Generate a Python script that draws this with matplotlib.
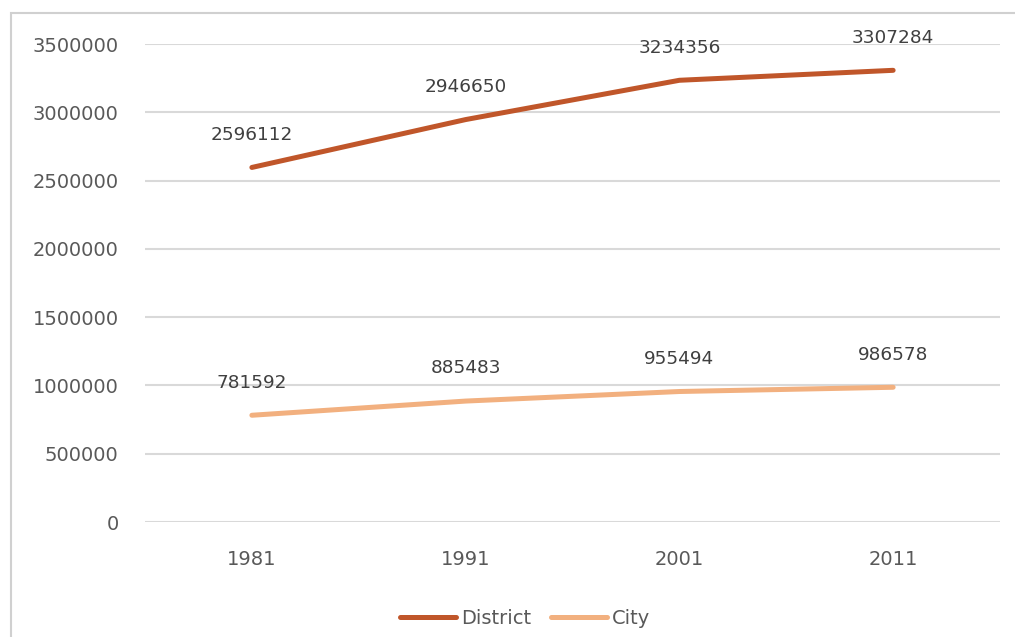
import matplotlib.pyplot as plt
from matplotlib.patches import Rectangle

years = ["1981", "1991", "2001", "2011"]
district = [2596112, 2946650, 3234356, 3307284]
city = [781592, 885483, 955494, 986578]
yticks = [0, 500000, 1000000, 1500000, 2000000, 2500000, 3000000, 3500000]

plt.rcParams['font.family'] = ['DejaVu Sans']

fig = plt.figure(figsize=(10.15, 6.37), dpi=100)
fig.patch.set_facecolor('white')

# outer chart frame
fig.add_artist(Rectangle((11 / 1015, -0.05), 1.2, 1 - 13 / 637 + 0.05,
                         transform=fig.transFigure, fill=False,
                         edgecolor='#D0D0D0', linewidth=1.5))

ax = fig.add_axes([145 / 1015, 1 - 522 / 637, 855 / 1015, (522 - 44) / 637])
x = list(range(len(years)))

ax.plot(x, district, color='#C0562A', linewidth=3.6, solid_capstyle='round', label='District', zorder=3)
ax.plot(x, city, color='#F2B07F', linewidth=3.6, solid_capstyle='round', label='City', zorder=3)

label_color = '#404040'
for xi, v in zip(x, district):
    ax.annotate(f"{v}", (xi, v), xytext=(0, 17), textcoords='offset points',
                ha='center', va='bottom', fontsize=13.3, color=label_color)
for xi, v in zip(x, city):
    ax.annotate(f"{v}", (xi, v), xytext=(0, 17), textcoords='offset points',
                ha='center', va='bottom', fontsize=13.3, color=label_color)

ax.set_xlim(-0.5, len(years) - 0.5)
ax.set_ylim(0, 3500000)
ax.set_yticks(yticks)
ax.set_yticklabels([str(t) for t in yticks])
ax.set_xticks(x)
ax.set_xticklabels(years)
ax.tick_params(axis='both', length=0, labelsize=14, labelcolor='#595959')
ax.tick_params(axis='y', pad=19)
ax.tick_params(axis='x', pad=20)
ax.grid(axis='y', color='#D9D9D9', linewidth=1.5)
ax.set_axisbelow(True)
for s in ax.spines.values():
    s.set_visible(False)

leg = fig.legend(loc='center', bbox_to_anchor=(525 / 1015, 1 - 618 / 637), ncol=2,
                 frameon=False, fontsize=14, handlelength=2.9, handletextpad=0.25,
                 columnspacing=1.0)
for t in leg.get_texts():
    t.set_color('#595959')

fig.savefig('out.png', dpi=100, facecolor='white')
